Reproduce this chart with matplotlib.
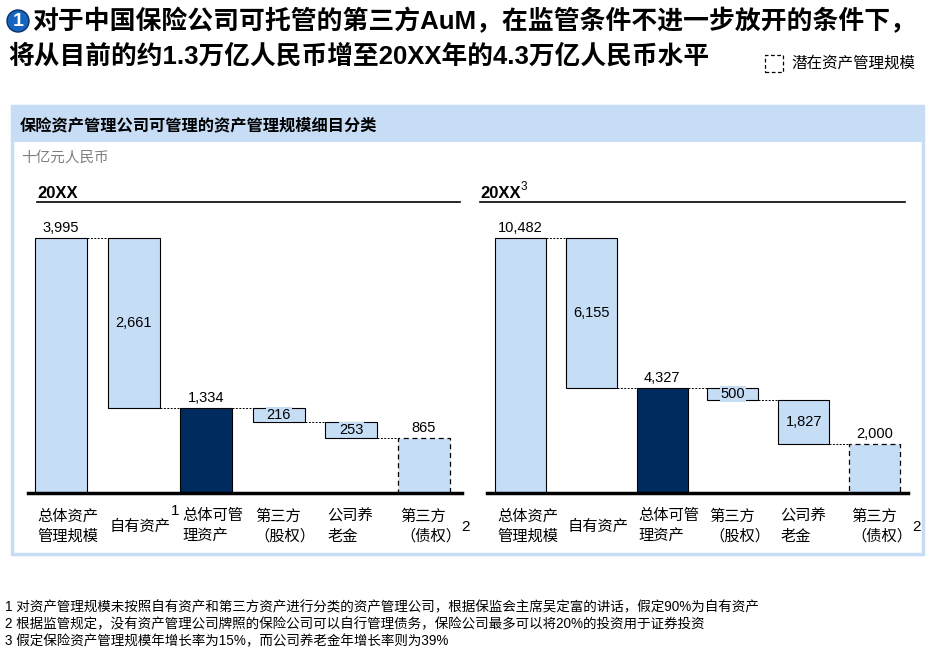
import matplotlib
matplotlib.use('Agg')
import matplotlib.pyplot as plt
from matplotlib.patches import Rectangle, Circle

# Fuentes: latinas en Liberation Sans, chino con Noto Sans CJK
FONT = ['Liberation Sans', 'Noto Sans CJK SC', 'DejaVu Sans']
plt.rcParams['font.family'] = FONT

##################################################################################
# Datos
##################################################################################
categories = ['总体资产\n管理规模', '自有资产', '总体可管\n理资产',
              '第三方\n（股权）', '公司养\n老金', '第三方\n（债权）']
left_marks = ['', '1', '', '', '', '2']
right_marks = ['', '', '', '', '', '2']
left_values = [3995, 2661, 1334, 216, 253, 865]
right_values = [10482, 6155, 4327, 500, 1827, 2000]
kinds = ['light', 'light', 'dark', 'light', 'light', 'dashed']

title_1 = '对于中国保险公司可托管的第三方AuM，在监管条件不进一步放开的条件下，'
title_2 = '将从目前的约1.3万亿人民币增至20XX年的4.3万亿人民币水平'
footnotes = [
    '1 对资产管理规模未按照自有资产和第三方资产进行分类的资产管理公司，根据保监会主席吴定富的讲话，假定90%为自有资产',
    '2 根据监管规定，没有资产管理公司牌照的保险公司可以自行管理债务，保险公司最多可以将20%的投资用于证券投资',
    '3 假定保险资产管理规模年增长率为15%，而公司养老金年增长率则为39%',
]

LIGHT = '#C6DDF6'
NAVY = '#002B5E'
PANEL = '#C6DDF5'

W, H = 931, 652
fig = plt.figure(figsize=(W / 100, H / 100), dpi=100)


def fx(x):
    return x / W


def fy(y):
    return 1 - y / H


def waterfall(ax, values, marks, width):
    total, own, managed = values[0], values[1], values[2]
    bottoms = [0, total - own, 0, managed - values[3],
               managed - values[3] - values[4], 0]
    for i, (v, b, k) in enumerate(zip(values, bottoms, kinds)):
        if k == 'dark':
            ax.bar(i, v, width, bottom=b, color=NAVY, edgecolor='black', lw=0.8)
        elif k == 'dashed':
            ax.bar(i, v, width, bottom=b, color=LIGHT, edgecolor='black', lw=0.9,
                   linestyle=(0, (4, 3)))
        else:
            ax.bar(i, v, width, bottom=b, color=LIGHT, edgecolor='black', lw=0.8)
        txt = f'{v:,}'
        if i in (0, 2, 5):
            ax.annotate(txt, (i, b + v), xytext=(0, 3), textcoords='offset pixels',
                        ha='center', va='bottom', fontsize=10.5)
        else:
            ax.text(i, b + v / 2, txt, ha='center', va='center', fontsize=10.5,
                    bbox=dict(boxstyle='square,pad=0.05', fc=LIGHT, ec='none'))
    # conectores punteados
    levels = [total, total - own, managed, bottoms[3], bottoms[4]]
    for i, lev in enumerate(levels):
        ax.plot([i + width / 2, i + 1 - width / 2], [lev, lev], color='black',
                lw=0.7, ls=(0, (2, 1.5)))
    # categorias
    for i, (c, m) in enumerate(zip(categories, marks)):
        t = ax.annotate(c, (i - width / 2, 0), xycoords=('data', 'axes fraction'),
                        xytext=(2, -33), textcoords='offset pixels', ha='left',
                        va='center', fontsize=11, linespacing=1.25,
                        family=['Noto Sans CJK SC', 'DejaVu Sans'])
        if m:
            yy = 0.28 if '\n' in c else 0.95
            ax.annotate(m, (1, yy), xycoords=t, xytext=(0, 0),
                        textcoords='offset pixels', ha='left', va='bottom',
                        fontsize=11)
    for s in ('left', 'right', 'top'):
        ax.spines[s].set_visible(False)
    ax.spines['bottom'].set_linewidth(2.5)
    ax.set_xticks([])
    ax.set_yticks([])


# Panel
fig.add_artist(Rectangle((fx(12), fy(554)), fx(923) - fx(12), fy(106) - fy(554),
                         transform=fig.transFigure, fc='none', ec=PANEL, lw=2.5))
fig.add_artist(Rectangle((fx(12), fy(142)), fx(923) - fx(12), fy(106) - fy(142),
                         transform=fig.transFigure, fc=PANEL, ec='none'))
fig.text(fx(20), fy(126), '保险资产管理公司可管理的资产管理规模细目分类',
         fontsize=11.7, fontweight='bold', va='center')
fig.text(fx(21), fy(158), '十亿元人民币', fontsize=10.5, color='#7F7F7F', va='center')

# Titulo
fig.add_artist(Circle((0.18, (H - 21) / 100), 0.11, transform=fig.dpi_scale_trans,
                      fc='#1565C0', ec='#0A2E6B', lw=1.0))
fig.text(fx(18), fy(21), '1', color='white', fontsize=14, fontweight='bold',
         ha='center', va='center')
fig.text(fx(32), fy(21), title_1, fontsize=18.6, fontweight='bold', va='center')
fig.text(fx(8), fy(56), title_2, fontsize=18.5, fontweight='bold', va='center')

# Leyenda
fig.add_artist(Rectangle((fx(765), fy(72)), fx(783) - fx(765), fy(55) - fy(72),
                         transform=fig.transFigure, fc='white', ec='black', lw=0.9,
                         ls=(0, (3, 2))))
fig.text(fx(791), fy(63), '潜在资产管理规模', fontsize=11.2, va='center')

# Sub-titulos con linea
fig.text(fx(37), fy(193), '20XX', fontsize=12, fontweight='bold', va='center')
fig.text(fx(480), fy(193), '20XX', fontsize=12, fontweight='bold', va='center')
fig.text(fx(521), fy(187), '3', fontsize=8.5, va='center')
fig.add_artist(plt.Line2D([fx(37), fx(460)], [fy(202), fy(202)], color='black', lw=1.2))
fig.add_artist(plt.Line2D([fx(480), fx(905)], [fy(202), fy(202)], color='black', lw=1.2))

# Graficos
ax1 = fig.add_axes([fx(28), fy(493), (462 - 28) / W, 291 / H])
ax1.set_ylim(0, left_values[0] * 291 / 255)
ax1.set_xlim(-0.455, 5.523)
waterfall(ax1, left_values, left_marks, 0.716)

ax2 = fig.add_axes([fx(487), fy(493), (908 - 487) / W, 291 / H])
ax2.set_ylim(0, right_values[0] * 291 / 255)
ax2.set_xlim(-0.473, 5.473)
waterfall(ax2, right_values, right_marks, 0.72)

# Notas al pie
for k, note in enumerate(footnotes):
    fig.text(fx(5), fy(607 + 17 * k), note, fontsize=9.75, va='center')

fig.savefig('out.png', dpi=100)
